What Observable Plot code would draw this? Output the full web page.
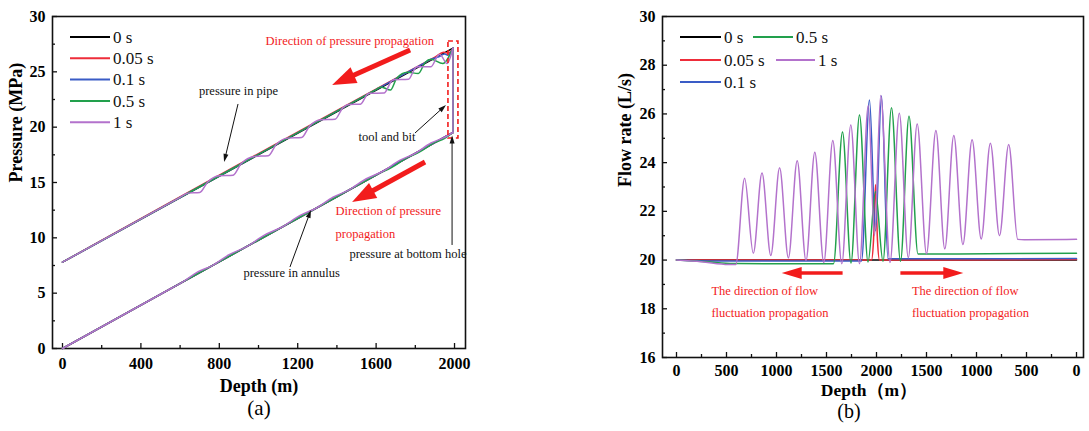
<!DOCTYPE html>
<html><head><meta charset="utf-8">
<script src="https://cdn.jsdelivr.net/npm/d3@7"></script>
<script src="https://cdn.jsdelivr.net/npm/@observablehq/plot@0.6"></script>
<style>
html,body{margin:0;padding:0;background:#fff;}
#wrap{position:relative;width:1089px;height:431px;display:flex;}
#wrap svg{display:block;overflow:visible;}
</style></head><body><div id="wrap"></div>
<script>
const SERIF = "'Liberation Serif','Times New Roman',serif";
const seriesNames = ["0 s", "0.05 s", "0.1 s", "0.5 s", "1 s"];
const seriesColors = ["#000000", "#ee2d3a", "#3a5cc6", "#22a04c", "#b372cc"];
const annotRed = "#f21c1c";

// ---------- Panel (a): pressure vs depth ----------
const toolDepth = 1992;
const pipe_0s = [[0, 7.80], [1992, 27.15]];
const pipe_005s = [[0, 7.80], [1900, 26.33], [1945, 26.76], [1968, 26.70], [1992, 27.15]];
const pipe_01s = [[0, 7.80], [1840, 25.74], [1880, 26.13], [1920, 26.36], [1950, 26.62], [1966, 26.50], [1992, 27.15]];
const pipe_05s = [[0, 7.80], [1560, 23.01], [1600, 23.40], [1625, 23.64], [1673, 23.35], [1705, 24.42], [1760, 24.96], [1815, 24.85], [1850, 25.84], [1880, 26.13], [1940, 25.75], [1992, 27.15]];
const pipe_1s = [[0, 7.80], [600, 13.65], [640, 14.04], [700, 14.09], [740, 15.02], [800, 15.60], [870, 15.65], [910, 16.67], [980, 17.36], [1050, 17.41], [1090, 18.43], [1150, 19.01], [1220, 19.06], [1260, 20.09], [1320, 20.67], [1390, 20.72], [1430, 21.74], [1460, 22.04], [1520, 22.08], [1555, 22.96], [1565, 23.06], [1640, 23.08], [1680, 24.18], [1690, 24.28], [1765, 24.32], [1800, 25.35], [1810, 25.45], [1880, 25.47], [1915, 26.47], [1925, 26.57], [1962, 25.75], [1992, 27.15]];

const ann_0s = [[0, 0], [1992, 19.52]];
const ann_005s = [[0, 0], [1992, 19.52]];
const ann_01s = [[0, 0], [1992, 19.52]];
const ann_05s = [[0, 0], [1540, 15.09], [1600, 15.68], [1680, 16.36], [1750, 17.15], [1820, 17.74], [1900, 18.62], [1950, 18.99], [1992, 19.52]];
const ann_1s = [[0, 0], [560, 5.49], [620, 6.08], [690, 6.92], [760, 7.45], [850, 8.48], [940, 9.21], [1030, 10.24], [1120, 10.98], [1210, 12.0], [1300, 12.74], [1380, 13.67], [1460, 14.31], [1550, 15.34], [1630, 15.97], [1720, 17.0], [1800, 17.64], [1880, 18.57], [1940, 19.01], [1992, 19.52]];

const pipeSeries = [pipe_0s, pipe_005s, pipe_01s, pipe_05s, pipe_1s];
const annSeries = [ann_0s, ann_005s, ann_01s, ann_05s, ann_1s];

const xMajorA = [0, 400, 800, 1200, 1600, 2000];
const xMinorA = [200, 600, 1000, 1400, 1800];
const yMajorA = [0, 5, 10, 15, 20, 25, 30];
const yMinorA = [2.5, 7.5, 12.5, 17.5, 22.5, 27.5];

const notesA_black = [
  {text: "pressure in pipe", x: 898, y: 23.31},
  {text: "tool and bit", x: 1510, y: 19.07},
  {text: "pressure at bottom hole", x: 1464, y: 8.58},
  {text: "pressure in annulus", x: 923, y: 6.78}
];
const notesA_red = [
  {text: "Direction of pressure propagation", x: 1036, y: 27.83},
  {text: "Direction of pressure", x: 1393, y: 12.38},
  {text: "propagation", x: 1393, y: 10.39}
];
const arrowsA = [
  {x1: 1776, y1: 26.93, x2: 1378, y2: 23.77, kind: "red"},
  {x1: 1852, y1: 16.81, x2: 1480, y2: 13.19, kind: "red"},
  {x1: 898, y1: 22.05, x2: 827, y2: 16.81, kind: "black"},
  {x1: 1801, y1: 19.43, x2: 1959, y2: 21.96, kind: "black"},
  {x1: 1990, y1: 9.31, x2: 1990, y2: 19.2, kind: "black"},
  {x1: 1163, y1: 7.32, x2: 1270, y2: 12.47, kind: "black"}
];
const boxA = {x1: 1969, x2: 2020, y1: 18.98, y2: 27.74};

// ---------- Panel (b): flow rate vs depth along flow path ----------
const flow_0s = [[0, 20.0], [4000, 20.0]];
const flow_005s = [[0, 20.0], [1950, 20.0], [1970, 20.8], [1990, 23.1], [2010, 20.8], [2030, 20.0], [4000, 20.02]];
const flow_01s = [[0, 20.0], [400, 19.96], [1850, 19.96], [1930, 26.57], [1990, 21.2], [2050, 26.74], [2115, 20.05], [2400, 20.05], [4000, 20.06]];
const flow_05s = [[0, 20.0], [300, 19.93], [570, 19.86], [1000, 19.85], [1570, 19.85], [1660, 25.26], [1745, 19.88], [1830, 25.96], [1915, 19.92], [1990, 22.8], [2065, 19.95], [2150, 26.25], [2240, 19.95], [2325, 25.9], [2415, 20.25], [2600, 20.25], [4000, 20.28]];
const flow_1s = [[0, 20.0], [250, 19.93], [520, 19.82], [593, 19.82], [681, 23.36], [768, 20.28], [855, 23.57], [943, 20.19], [1031, 23.79], [1119, 20.09], [1207, 24.08], [1295, 19.98], [1383, 24.43], [1473, 19.9], [1563, 24.91], [1653, 19.85], [1743, 25.55], [1830, 19.85], [1918, 26.35], [1980, 21.0], [2042, 26.76], [2135, 19.9], [2228, 26.03], [2318, 20.1], [2407, 25.59], [2500, 20.26], [2594, 25.32], [2683, 20.46], [2773, 25.11], [2864, 20.64], [2956, 24.94], [3047, 20.87], [3139, 24.80], [3230, 21.0], [3322, 24.74], [3412, 20.85], [3480, 20.83], [4000, 20.85]];
const flowSeries = [flow_0s, flow_005s, flow_01s, flow_05s, flow_1s];

const xMajorB = [0, 500, 1000, 1500, 2000, 2500, 3000, 3500, 4000];
const xTickLabelsB = ["0", "500", "1000", "1500", "2000", "1500", "1000", "500", "0"];
const xMinorB = [250, 750, 1250, 1750, 2250, 2750, 3250, 3750];
const yMajorB = [16, 18, 20, 22, 24, 26, 28, 30];
const yMinorB = [17, 19, 21, 23, 25, 27, 29];

const notesB_red = [
  {text: "The direction of flow", x: 349, y: 18.75},
  {text: "fluctuation propagation", x: 349, y: 17.81},
  {text: "The direction of flow", x: 2354, y: 18.75},
  {text: "fluctuation propagation", x: 2354, y: 17.81}
];
const arrowsB = [
  {x1: 1666, y1: 19.45, x2: 1057, y2: 19.45, kind: "redB"},
  {x1: 2244, y1: 19.45, x2: 2873, y2: 19.45, kind: "redB"}
];

// ---------- helpers ----------
const XY = {x: d => d[0], y: d => d[1]};
function axisMarks(W, H, xMaj, xMin, yMaj, yMin, xFmt, xPad) {
  return [
    Plot.frame({stroke: "#111", strokeWidth: 1.6}),
    Plot.ruleX(xMaj, {x: d => d, insetTop: H - 5, stroke: "#111", strokeWidth: 1.3}),
    Plot.ruleX(xMin, {x: d => d, insetTop: H - 3, stroke: "#111", strokeWidth: 1.3}),
    Plot.ruleY(yMaj, {y: d => d, insetRight: W - 5, stroke: "#111", strokeWidth: 1.3}),
    Plot.ruleY(yMin, {y: d => d, insetRight: W - 3, stroke: "#111", strokeWidth: 1.3}),
    Plot.axisX({ticks: xMaj, tickSize: 0, tickPadding: xPad, fontSize: 16, fontWeight: "bold", tickFormat: xFmt}),
    Plot.axisY({ticks: yMaj, tickSize: 0, tickPadding: 7, fontSize: 16, fontWeight: "bold", tickFormat: d => String(d)})
  ];
}

// ---------- Plot (a) ----------
const wA = 540, hA = 431, mlA = 52, mrA = 75, mtA = 16, mbA = 83;
const linesA = [];
pipeSeries.forEach((p, i) => {
  const c = seriesColors[i];
  linesA.push(Plot.line(p, {...XY, stroke: c, strokeWidth: 1.5, curve: "monotone-x"}));
  linesA.push(Plot.line(annSeries[i], {...XY, stroke: c, strokeWidth: 1.5, curve: "monotone-x"}));
  linesA.push(Plot.line([[toolDepth, p[p.length - 1][1]], [toolDepth, annSeries[i][annSeries[i].length - 1][1]]], {...XY, stroke: c, strokeWidth: 1.5}));
});
const plotA = Plot.plot({
  width: wA, height: hA, marginLeft: mlA, marginRight: mrA, marginTop: mtA, marginBottom: mbA,
  x: {domain: [-51, 2056], label: null},
  y: {domain: [0, 30], label: null},
  style: {fontFamily: SERIF, fontSize: "16px", background: "transparent", color: "#000"},
  marks: [
    ...axisMarks(wA - mlA - mrA, hA - mtA - mbA, xMajorA, xMinorA, yMajorA, yMinorA, d => String(d), 9),
    ...linesA,
    Plot.rect([boxA], {x1: "x1", x2: "x2", y1: "y1", y2: "y2", fill: "none", stroke: annotRed, strokeWidth: 1.6, strokeDasharray: "5,3"}),
    Plot.text(notesA_black.slice(0, 1), {x: "x", y: "y", text: "text", textAnchor: "middle", fontSize: 12.5, fill: "#111"}),
    Plot.text(notesA_black.slice(1), {x: "x", y: "y", text: "text", textAnchor: "start", fontSize: 12.5, fill: "#111"}),
    Plot.text(notesA_red, {x: "x", y: "y", text: "text", textAnchor: "start", fontSize: 12.5, fill: annotRed}),
    Plot.text(["Pressure (MPa)"], {text: d => d, frameAnchor: "left", dx: -36, rotate: -90, fontSize: 18, fontWeight: "bold"}),
    Plot.text(["Depth (m)"], {text: d => d, frameAnchor: "bottom", dy: 43, fontSize: 18, fontWeight: "bold"}),
    Plot.text(["(a)"], {text: d => d, frameAnchor: "bottom", dy: 66, fontSize: 21})
  ]
});

// ---------- Plot (b) ----------
const wB = 549, hB = 431, mlB = 122, mrB = 6, mtB = 16, mbB = 74;
const linesB = flowSeries.map((f, i) => Plot.line(f, {...XY, stroke: seriesColors[i], strokeWidth: 1.5, curve: "monotone-x"}));
const plotB = Plot.plot({
  width: wB, height: hB, marginLeft: mlB, marginRight: mrB, marginTop: mtB, marginBottom: mbB,
  x: {domain: [-140, 4070], label: null},
  y: {domain: [16, 30], label: null},
  style: {fontFamily: SERIF, fontSize: "16px", background: "transparent", color: "#000"},
  marks: [
    ...axisMarks(wB - mlB - mrB, hB - mtB - mbB, xMajorB, xMinorB, yMajorB, yMinorB, d => xTickLabelsB[xMajorB.indexOf(d)], 7),
    ...linesB,
    Plot.text(notesB_red, {x: "x", y: "y", text: "text", textAnchor: "start", fontSize: 12.5, fill: annotRed}),
    Plot.text(["Flow rate (L/s)"], {text: d => d, frameAnchor: "left", dx: -37, rotate: -90, fontSize: 18, fontWeight: "bold"}),
    Plot.text(["Depth（m）"], {text: d => d, frameAnchor: "bottom", dy: 38, dx: -4, fontSize: 17.5, fontWeight: "bold"}),
    Plot.text(["(b)"], {text: d => d, frameAnchor: "bottom", dy: 60, dx: -24, fontSize: 20})
  ]
});

const wrap = document.getElementById("wrap");
wrap.appendChild(plotA);
wrap.appendChild(plotB);

// ---------- overlays: arrows & legends ----------
function linScale(plot, k) {
  const s = plot.scale(k);
  return d3.scaleLinear().domain(s.domain).range(s.range);
}
const arrowStyle = {
  red: {color: annotRed, w: 5, hl: 24, hw: 17},
  redB: {color: annotRed, w: 3.5, hl: 20, hw: 12},
  black: {color: "#111", w: 1, hl: 8, hw: 5}
};
function drawArrows(plot, list) {
  const sx = linScale(plot, "x"), sy = linScale(plot, "y");
  const g = d3.select(plot).append("g");
  list.forEach(a => {
    const st = arrowStyle[a.kind];
    const x1 = sx(a.x1), y1 = sy(a.y1), x2 = sx(a.x2), y2 = sy(a.y2);
    const L = Math.hypot(x2 - x1, y2 - y1), ux = (x2 - x1) / L, uy = (y2 - y1) / L;
    const bx = x2 - ux * st.hl, by = y2 - uy * st.hl;
    g.append("line").attr("x1", x1).attr("y1", y1).attr("x2", bx + ux).attr("y2", by + uy)
      .attr("stroke", st.color).attr("stroke-width", st.w);
    g.append("path").attr("d", `M${x2},${y2}L${bx - uy * st.hw / 2},${by + ux * st.hw / 2}L${bx + uy * st.hw / 2},${by - ux * st.hw / 2}Z`)
      .attr("fill", st.color);
  });
}
drawArrows(plotA, arrowsA);
drawArrows(plotB, arrowsB);

function drawLegend(plot, items) {
  const g = d3.select(plot).append("g").attr("text-anchor", "start");
  items.forEach(it => {
    g.append("line").attr("x1", it.x).attr("x2", it.x + it.len).attr("y1", it.y).attr("y2", it.y)
      .attr("stroke", seriesColors[it.i]).attr("stroke-width", 2);
    g.append("text").attr("x", it.x + it.len + 3).attr("y", it.y).attr("dy", "0.34em")
      .attr("text-anchor", "start")
      .attr("font-family", SERIF).attr("font-size", 17).attr("fill", "#111").text(seriesNames[it.i]);
  });
}
drawLegend(plotA, seriesNames.map((n, i) => ({i, x: 70, len: 40, y: 37 + i * 21.3})));
drawLegend(plotB, [
  {i: 0, x: 140, len: 41, y: 37},
  {i: 3, x: 213, len: 40, y: 37},
  {i: 1, x: 140, len: 41, y: 60},
  {i: 4, x: 236, len: 39, y: 60},
  {i: 2, x: 140, len: 41, y: 82}
]);
</script></body></html>
